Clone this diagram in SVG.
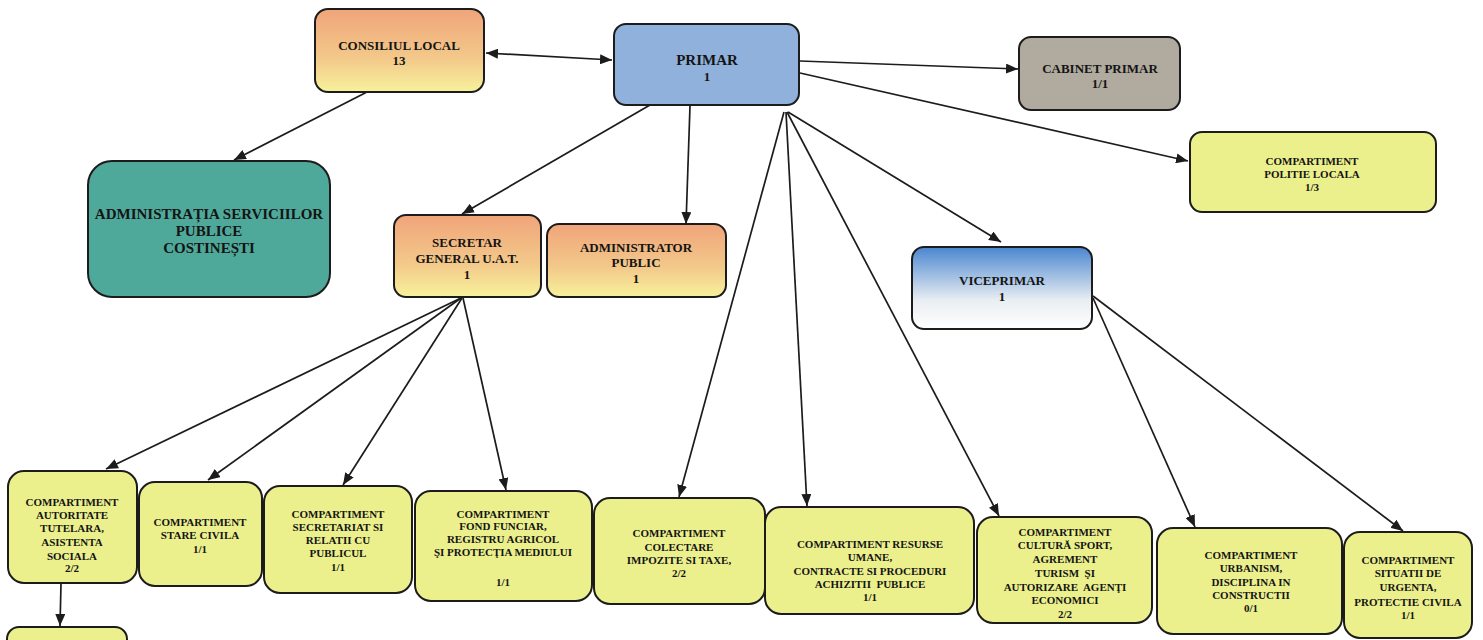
<svg xmlns="http://www.w3.org/2000/svg" width="1483" height="640" viewBox="0 0 1483 640">
<defs>
<linearGradient id="gOrange" x1="0" y1="0" x2="0" y2="1">
<stop offset="0" stop-color="#f0a47a"/>
<stop offset="0.6" stop-color="#f3c98a"/>
<stop offset="1" stop-color="#f7f29c"/>
</linearGradient>
<linearGradient id="gBlue" x1="0" y1="0" x2="0" y2="1">
<stop offset="0" stop-color="#4a86d0"/>
<stop offset="0.65" stop-color="#e9eef2"/>
<stop offset="1" stop-color="#ffffff"/>
</linearGradient>
<marker id="arr" markerUnits="userSpaceOnUse" markerWidth="13" markerHeight="10" refX="12" refY="5" orient="auto-start-reverse">
<path d="M0,0 L12,5 L0,10 z" fill="#1c1c1c"/>
</marker>
<style>
.box{stroke:#1c1c1c;stroke-width:2}
.y{fill:#ebf08d}
.t{font-family:"Liberation Serif","Times New Roman",serif;font-weight:bold;fill:#141414;text-anchor:middle}
.big{font-size:13px}
.sm{font-size:11px}
.con line{stroke:#1c1c1c;stroke-width:1.7;marker-end:url(#arr)}
</style>
</defs>
<rect width="1483" height="640" fill="#ffffff"/>

<g class="con">
<line x1="486" y1="53" x2="612" y2="60" marker-start="url(#arr)"/>
<line x1="367" y1="92" x2="234" y2="160"/>
<line x1="800" y1="61" x2="1018" y2="69"/>
<line x1="800" y1="73" x2="1188" y2="161"/>
<line x1="650" y1="105" x2="462" y2="214"/>
<line x1="690" y1="106" x2="686" y2="224"/>
<line x1="788" y1="112" x2="1001" y2="242"/>
<line x1="784" y1="112" x2="679" y2="497"/>
<line x1="786" y1="112" x2="807" y2="506"/>
<line x1="787" y1="112" x2="999" y2="516"/>
<line x1="461" y1="298" x2="106" y2="469"/>
<line x1="461" y1="298" x2="208" y2="480"/>
<line x1="462" y1="298" x2="343" y2="485"/>
<line x1="463" y1="298" x2="506" y2="490"/>
<line x1="1093" y1="298" x2="1195" y2="527"/>
<line x1="1093" y1="296" x2="1403" y2="531"/>
<line x1="61" y1="584" x2="60" y2="626"/>
</g>

<g id="consiliul-local">
<rect class="box" x="315" y="9" width="169" height="83" rx="13" fill="url(#gOrange)"/>
<text class="t big"><tspan x="399" y="50">CONSILIUL LOCAL</tspan><tspan x="399" y="65">13</tspan></text>
</g>

<g id="administratia">
<rect class="box" x="88" y="161" width="242" height="136" rx="24" fill="#4fa99b"/>
<text class="t" font-size="15"><tspan x="209" y="219">ADMINISTRAȚIA SERVICIILOR</tspan><tspan x="209" y="236">PUBLICE</tspan><tspan x="209" y="253">COSTINEȘTI</tspan></text>
</g>

<g id="primar">
<rect class="box" x="614" y="24" width="185" height="81" rx="12" fill="#90b1dc"/>
<text class="t"><tspan x="707" y="65" font-size="15">PRIMAR</tspan><tspan x="707" y="81" font-size="13">1</tspan></text>
</g>

<g id="cabinet-primar">
<rect class="box" x="1019" y="37" width="161" height="73" rx="12" fill="#b1ab9f"/>
<text class="t big"><tspan x="1100" y="73">CABINET PRIMAR</tspan><tspan x="1100" y="88">1/1</tspan></text>
</g>

<g id="politie-locala">
<rect class="box y" x="1190" y="132" width="246" height="80" rx="12"/>
<text class="t sm"><tspan x="1312" y="165">COMPARTIMENT</tspan><tspan x="1312" y="178">POLITIE LOCALA</tspan><tspan x="1312" y="191">1/3</tspan></text>
</g>

<g id="secretar-general">
<rect class="box" x="394" y="215" width="147" height="82" rx="12" fill="url(#gOrange)"/>
<text class="t big"><tspan x="467" y="247">SECRETAR</tspan><tspan x="467" y="263">GENERAL U.A.T.</tspan><tspan x="467" y="279">1</tspan></text>
</g>

<g id="administrator-public">
<rect class="box" x="547" y="224" width="179" height="73" rx="12" fill="url(#gOrange)"/>
<text class="t big"><tspan x="636" y="252">ADMINISTRATOR</tspan><tspan x="636" y="267">PUBLIC</tspan><tspan x="636" y="283">1</tspan></text>
</g>

<g id="viceprimar">
<rect class="box" x="912" y="247" width="180" height="82" rx="12" fill="url(#gBlue)"/>
<text class="t big"><tspan x="1002" y="285">VICEPRIMAR</tspan><tspan x="1002" y="301">1</tspan></text>
</g>

<g id="autoritate-tutelara">
<rect class="box y" x="8" y="471" width="129" height="112" rx="16"/>
<text class="t sm"><tspan x="72" y="506">COMPARTIMENT</tspan><tspan x="72" y="519">AUTORITATE</tspan><tspan x="72" y="532">TUTELARA,</tspan><tspan x="72" y="546">ASISTENTA</tspan><tspan x="72" y="560">SOCIALA</tspan><tspan x="72" y="572">2/2</tspan></text>
</g>

<g id="stare-civila">
<rect class="box y" x="139" y="482" width="123" height="104" rx="16"/>
<text class="t sm"><tspan x="200" y="526">COMPARTIMENT</tspan><tspan x="200" y="539">STARE CIVILA</tspan><tspan x="200" y="553">1/1</tspan></text>
</g>

<g id="secretariat">
<rect class="box y" x="264" y="486" width="148" height="107" rx="16"/>
<text class="t sm"><tspan x="338" y="518">COMPARTIMENT</tspan><tspan x="338" y="531">SECRETARIAT SI</tspan><tspan x="338" y="544">RELATII CU</tspan><tspan x="338" y="557">PUBLICUL</tspan><tspan x="338" y="571">1/1</tspan></text>
</g>

<g id="fond-funciar">
<rect class="box y" x="415" y="491" width="177" height="110" rx="16"/>
<text class="t sm"><tspan x="503" y="518">COMPARTIMENT</tspan><tspan x="503" y="530">FOND FUNCIAR,</tspan><tspan x="503" y="543">REGISTRU AGRICOL</tspan><tspan x="503" y="556">ŞI PROTECŢIA MEDIULUI</tspan><tspan x="503" y="586">1/1</tspan></text>
</g>

<g id="colectare">
<rect class="box y" x="594" y="498" width="171" height="106" rx="16"/>
<text class="t sm"><tspan x="679" y="537">COMPARTIMENT</tspan><tspan x="679" y="551">COLECTARE</tspan><tspan x="679" y="564">IMPOZITE SI TAXE,</tspan><tspan x="679" y="577">2/2</tspan></text>
</g>

<g id="resurse-umane">
<rect class="box y" x="765" y="507" width="209" height="107" rx="16"/>
<text class="t sm"><tspan x="870" y="548">COMPARTIMENT RESURSE</tspan><tspan x="870" y="561">UMANE,</tspan><tspan x="870" y="575">CONTRACTE SI PROCEDURI</tspan><tspan x="870" y="588" xml:space="preserve">ACHIZITII  PUBLICE</tspan><tspan x="870" y="601">1/1</tspan></text>
</g>

<g id="cultura-sport">
<rect class="box y" x="977" y="517" width="175" height="106" rx="16"/>
<text class="t sm"><tspan x="1065" y="536">COMPARTIMENT</tspan><tspan x="1065" y="549">CULTURĂ SPORT,</tspan><tspan x="1065" y="563">AGREMENT</tspan><tspan x="1065" y="577" xml:space="preserve">TURISM  ŞI</tspan><tspan x="1065" y="591" xml:space="preserve">AUTORIZARE  AGENŢI</tspan><tspan x="1065" y="604">ECONOMICI</tspan><tspan x="1065" y="618">2/2</tspan></text>
</g>

<g id="urbanism">
<rect class="box y" x="1157" y="528" width="185" height="106" rx="16"/>
<text class="t sm"><tspan x="1251" y="559">COMPARTIMENT</tspan><tspan x="1251" y="572">URBANISM,</tspan><tspan x="1251" y="586">DISCIPLINA IN</tspan><tspan x="1251" y="599">CONSTRUCTII</tspan><tspan x="1251" y="612">0/1</tspan></text>
</g>

<g id="situatii-urgenta">
<rect class="box y" x="1344" y="532" width="128" height="106" rx="16"/>
<text class="t sm"><tspan x="1408" y="564">COMPARTIMENT</tspan><tspan x="1408" y="577">SITUATII DE</tspan><tspan x="1408" y="591">URGENTA,</tspan><tspan x="1408" y="606">PROTECTIE CIVILA</tspan><tspan x="1408" y="619">1/1</tspan></text>
</g>

<g id="sub-autoritate">
<rect class="box y" x="7" y="627" width="120" height="40" rx="12"/>
</g>
</svg>
